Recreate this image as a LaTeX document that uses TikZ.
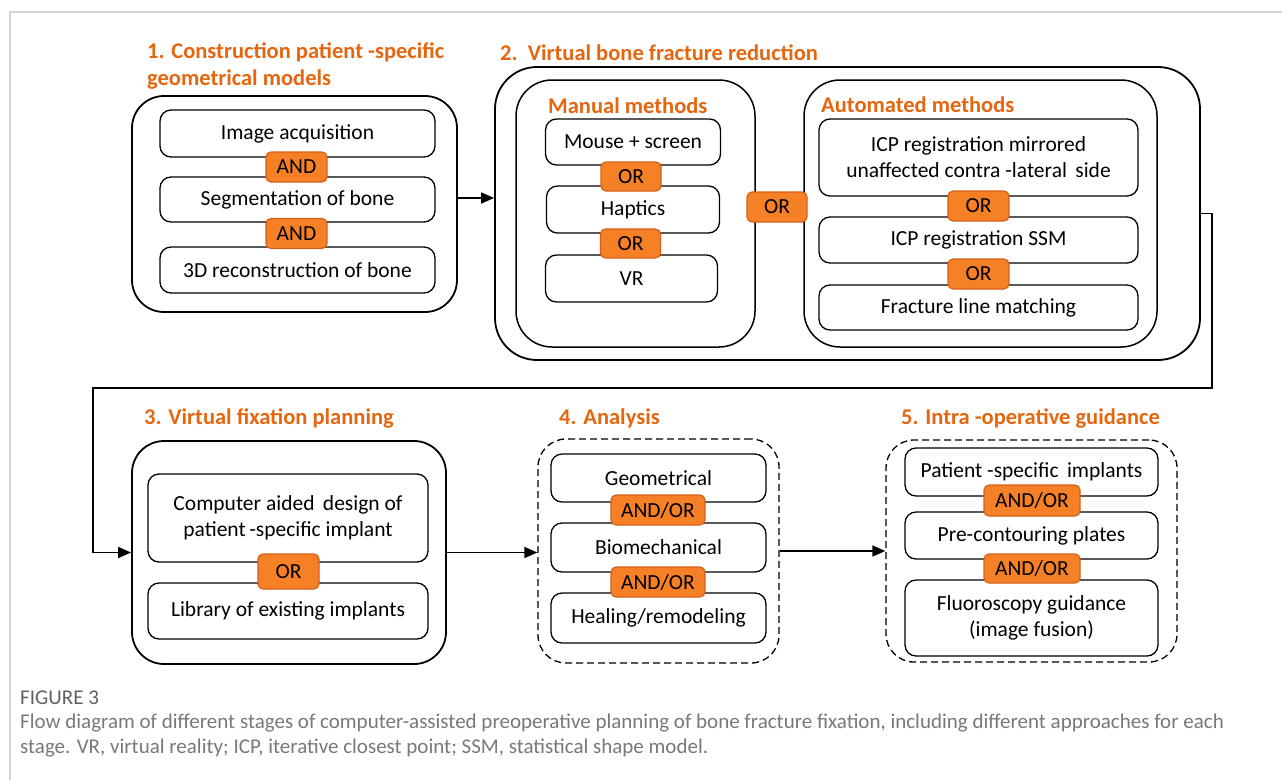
\documentclass[tikz,border=0pt]{standalone}
\usepackage{fontspec}
\setmainfont{Carlito}
\usetikzlibrary{arrows.meta,positioning}
\definecolor{headorange}{RGB}{230,102,16}
\definecolor{opfill}{RGB}{246,128,38}
\definecolor{opline}{RGB}{214,96,24}
\definecolor{framegray}{RGB}{212,212,212}
\definecolor{capgray}{RGB}{120,120,120}
\tikzset{
box/.style 2 args={minimum width=#1pt,minimum height=#2pt},
stage/.style={draw,line width=1.8pt,rounded corners=32pt,inner sep=0pt},
dstage/.style={stage,line width=1.3pt,rounded corners=28pt,dash pattern=on 7pt off 4pt},
group/.style={draw,line width=1.5pt,rounded corners=36pt,inner sep=0pt},
item/.style={draw,line width=1.3pt,rounded corners=11pt,inner sep=0pt,align=center,
  font={\fontsize{21.5}{26}\selectfont}},
op/.style={draw=opline,fill=opfill,line width=1.2pt,rounded corners=5pt,inner sep=0pt,
  font={\fontsize{21.5}{26}\selectfont}},
head/.style={text=headorange,anchor=west,inner sep=0pt,align=left,
  font={\fontsize{22.5}{27}\selectfont\bfseries}},
captext/.style={anchor=west,inner sep=0pt,text=capgray,font={\fontsize{21}{25}\selectfont}},
arr/.style={line width=1.6pt,-{Triangle[length=13pt,width=11pt]}},
}
\begin{document}
\begin{tikzpicture}[x=1pt,y=-1pt]
  \useasboundingbox (0,0) rectangle (1282,780);
  \draw[framegray,line width=1.5pt] (10,780) -- (10,12) -- (1282,12);

  % stage 1
  \node[head] (h1) at (147,65.5) {1. Construction patient -specific\\geometrical models};
  \node[stage,box={325}{216}] (stage1) at (294.5,204) {};
  \node[item,box={275}{47}] (acq) at (297.5,133.5) {Image acquisition};
  \node[item,box={275}{45}] (seg) at (297.5,199.5) {Segmentation of bone};
  \node[item,box={275}{46}] (rec) at (297.5,270) {3D reconstruction of bone};
  \node[op,box={61}{30}] (and1) at (296.5,167) {AND};
  \node[op,box={61}{30}] (and2) at (296.5,233.5) {AND};

  % stage 2
  \node[head] (h2) at (500,53) {2.\ \ Virtual bone fracture reduction};
  \node[stage,rounded corners=42pt,box={705}{293}] (stage2) at (847.5,213.5) {};
  \node[group,box={239}{267}] (manual) at (635.5,213.5) {};
  \node[head] (hman) at (548,106) {Manual methods};
  \node[item,box={175}{46}] (mouse) at (633,142) {Mouse + screen};
  \node[item,box={173}{47}] (hapt) at (633,209.5) {Haptics};
  \node[item,box={172}{47}] (vr) at (631.5,278.5) {VR};
  \node[op,box={60}{29}] (or1) at (631,176.5) {OR};
  \node[op,box={60}{29}] (or2) at (630.5,243.5) {OR};
  \node[group,box={353}{267}] (auto) at (980.5,213.5) {};
  \node[head] (haut) at (821,105) {Automated methods};
  \node[item,box={319}{77}] (icpm) at (978.5,157.5) {ICP registration mirrored\\unaffected contra -lateral\ \,side};
  \node[item,box={319}{46}] (icps) at (978.5,240) {ICP registration SSM};
  \node[item,box={319}{45}] (frac) at (978.5,307.5) {Fracture line matching};
  \node[op,box={61}{30}] (or3) at (978.5,206) {OR};
  \node[op,box={61}{30}] (or4) at (978.5,274) {OR};
  \node[op,box={60}{30}] (ormid) at (777,207) {OR};

  % stage 3
  \node[head] (h3) at (144,418) {3. Virtual fixation planning};
  \node[stage,box={314}{223}] (stage3) at (289,552.5) {};
  \node[item,box={280}{88}] (cad) at (288,518) {Computer aided\ \,design of\\patient\,-specific implant};
  \node[item,box={280}{56}] (lib) at (288,611) {Library of existing implants};
  \node[op,box={61}{35}] (or5) at (288.5,571.5) {OR};

  % stage 4
  \node[head] (h4) at (559,418) {4. Analysis};
  \node[dstage,box={241}{224}] (stage4) at (658.5,551) {};
  \node[item,box={215}{48}] (geo) at (658.5,478) {Geometrical};
  \node[item,box={215}{49}] (bio) at (658.5,547.5) {Biomechanical};
  \node[item,box={215}{50}] (heal) at (658.5,618) {Healing/remodeling};
  \node[op,box={94}{30}] (ao1) at (658,510) {AND/OR};
  \node[op,box={94}{30}] (ao2) at (658,582) {AND/OR};

  % stage 5
  \node[head] (h5) at (901,418) {5. Intra -operative guidance};
  \node[dstage,box={291}{222}] (stage5) at (1031.5,551) {};
  \node[item,box={253}{48}] (psi) at (1031.5,472) {Patient -specific\ \,implants};
  \node[item,box={253}{47}] (pcp) at (1031.5,535.5) {Pre-contouring plates};
  \node[item,box={253}{76}] (flu) at (1031.5,618) {Fluoroscopy guidance\\(image fusion)};
  \node[op,box={96}{31}] (ao3) at (1032,500.5) {AND/OR};
  \node[op,box={96}{29}] (ao4) at (1032,568.5) {AND/OR};

  % connectors
  \coordinate (turnR) at (1212,388);
  \coordinate (turnL) at (93,388);
  \draw[arr] ([yshift=6pt]stage1.east) -- ([yshift=6pt]stage1.east -| stage2.west);
  \draw[arr] (stage2.east) -| (turnR) -- (turnL) |- (stage3.west);
  \draw[arr] (stage3.east) -- (stage3.east -| stage4.west);
  \draw[arr] (stage4.east) -- (stage5.west);

  % caption
  \node[captext,text=capgray!80!black] (fig) at (20,698) {FIGURE 3};
  \node[captext] (cap1) at (20,723)
    {Flow diagram of different stages of computer-assisted preoperative planning of bone fracture fixation, including different approaches for each};
  \node[captext] (cap2) at (20,748)
    {stage. VR, virtual reality; ICP, iterative closest point; SSM, statistical shape model.};
\end{tikzpicture}
\end{document}
